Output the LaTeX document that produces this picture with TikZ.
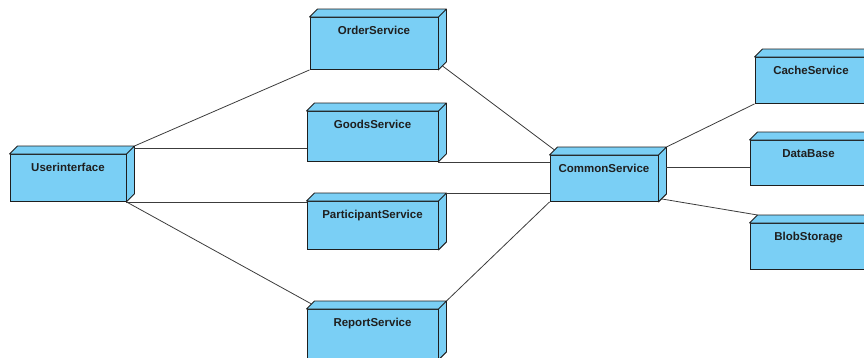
\documentclass[tikz,border=0pt]{standalone}
\usepackage{fontspec}
\newfontfamily\boxfont{Liberation Sans}
\usepackage{tikz}
\definecolor{nodeblue}{HTML}{7ACFF5}
\definecolor{edgegray}{HTML}{3C3C3C}
\definecolor{boxline}{HTML}{1E1E1E}
\tikzset{
  umlbox/.style={draw=boxline, fill=nodeblue, line width=0.9pt, anchor=north,
    inner xsep=0pt, inner ysep=9.5pt, text height=8pt, text depth=#1,
    font=\boxfont\bfseries\fontsize{11.5}{13}\selectfont, text=black!88},
  face/.style={draw=boxline, fill=nodeblue, line width=0.9pt, line join=round},
  wire/.style={draw=edgegray, line width=0.8pt},
}

\begin{document}
\begin{tikzpicture}[x=1pt,y=-1pt]
        \useasboundingbox (0,0) rectangle (864,357);
        \clip (0,0) rectangle (864,357);
        \node [umlbox=20, minimum width=116] (ui)     at (68,154)    {Userinterface};
        \node [umlbox=25, minimum width=128] (order)  at (374,17)    {OrderService};
        \node [umlbox=23, minimum width=131] (goods)  at (372.5,111) {GoodsService};
        \node [umlbox=21, minimum width=131] (part)   at (372.5,201) {ParticipantService};
        \node [umlbox=23, minimum width=131] (report) at (372.5,309) {ReportService};
        \node [umlbox=19, minimum width=108] (common) at (604,155)   {CommonService};
        \node [umlbox=19, minimum width=112] (cache)  at (811,57)    {CacheService};
        \node [umlbox=18, minimum width=117] (db)     at (808.5,140) {DataBase};
        \node [umlbox=19, minimum width=117] (blob)   at (808.5,223) {BlobStorage};
        % top and side faces
        \foreach \n in {ui,order,goods,part,report,common,cache,db,blob}
          \draw [face] (\n.north west) -- ++(8,-8) -- ([shift={(8,-8)}]\n.north east)
            -- ([shift={(8,-8)}]\n.south east) -- (\n.south east) -- (\n.north east) -- cycle
            (\n.north east) -- ++(8,-8);
        \path ([shift={(8,-6)}]ui.north east) coordinate (ug)
              ([shift={(8,-8)}]part.north east) coordinate (pc)
              ([shift={(8,-11)}]common.east) coordinate (cd);
        \draw [wire] ([shift={(8,-8)}]ui.north east) -- (order.south west);
        \draw [wire] (ug) -- (ug -| goods.west);
        \draw [wire] (ui.south east) -- (ui.south east -| part.west);
        \draw [wire] (ui.south east) -- ([shift={(5,-5)}]report.north west);
        \draw [wire] ([shift={(4,-4)}]order.south east) -- ([shift={(5,-5)}]common.north west);
        \draw [wire] (goods.south east) -- (goods.south east -| common.west);
        \draw [wire] (pc) -- (pc -| common.west);
        \draw [wire] ([shift={(8,-8)}]report.north east) -- (common.south west);
        \draw [wire] ([shift={(8,-8)}]common.north east) -- (cache.south west);
        \draw [wire] (cd) -- (cd -| db.west);
        \draw [wire] ([shift={(3,-3)}]common.south east) -- ([shift={(8,-8)}]blob.north west);
      \end{tikzpicture}
\end{document}
